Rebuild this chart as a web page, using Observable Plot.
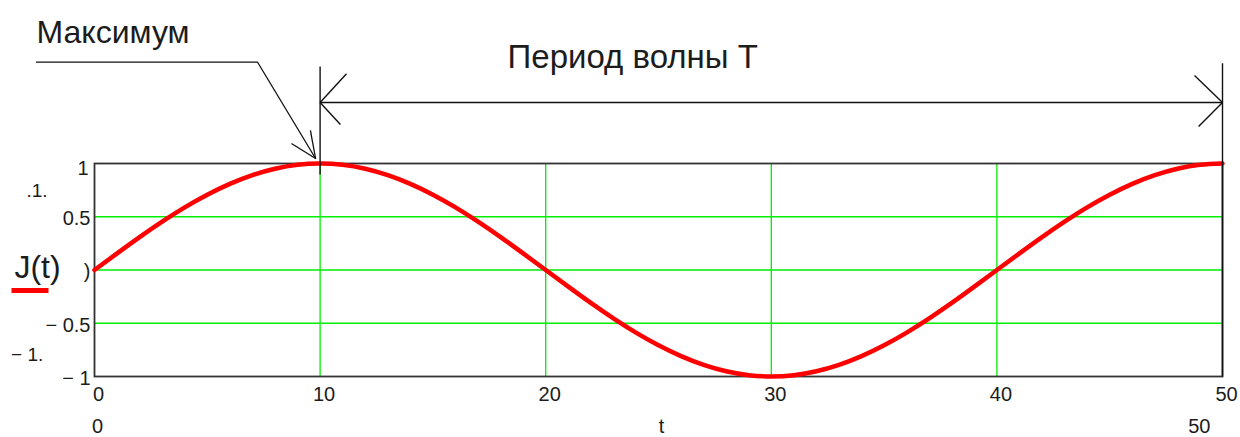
<!DOCTYPE html>
<html>
<head>
<meta charset="utf-8">
<script src="https://cdn.jsdelivr.net/npm/d3@7"></script>
<script src="https://cdn.jsdelivr.net/npm/@observablehq/plot@0.6"></script>
<style>
  html, body { margin: 0; padding: 0; background: #fff; }
  #chart svg { display: block; }
</style>
</head>
<body>
<div id="chart"></div>
<script>
// ---- data ----
const tValues = [0,1,2,3,4,5,6,7,8,9,10,11,12,13,14,15,16,17,18,19,20,21,22,23,24,25,26,27,28,29,30,31,32,33,34,35,36,37,38,39,40,41,42,43,44,45,46,47,48,49,50];
const jValues = [0,0.156,0.309,0.454,0.588,0.707,0.809,0.891,0.951,0.988,1,0.988,0.951,0.891,0.809,0.707,0.588,0.454,0.309,0.156,0,-0.156,-0.309,-0.454,-0.588,-0.707,-0.809,-0.891,-0.951,-0.988,-1,-0.988,-0.951,-0.891,-0.809,-0.707,-0.588,-0.454,-0.309,-0.156,0,0.156,0.309,0.454,0.588,0.707,0.809,0.891,0.951,0.988,1];
const xTicks = [0,10,20,30,40,50];
const xGrid = [10,20,30,40];
const yGrid = [-0.5,0,0.5];
const yTicks = [-1,-0.5,0,0.5];
const yTickLabels = ["\u2212 1","\u2212 0.5",")","0.5"];
const yTopTick = [1];
const rangeLabelsLeft = [{t:0, s:"0"},{t:25, s:"t"}];
const rangeLabelsRight = [{t:50, s:"50"}];
const titleMax = "Максимум";
const titlePeriod = "Период волны T";
const yName = "J(t)";

// annotations in data units (t, J)
const leader = [{t:-2.57,j:1.951},{t:7.23,j:1.951},{t:9.80,j:1.047}];
const leaderHead = [{t1:9.80,j1:1.047,t2:8.73,j2:1.188},{t1:9.80,j1:1.047,t2:9.57,j2:1.31}];
const dimLines = [
  {t1:10,j1:1.911,t2:10,j2:0.897},
  {t1:10,j1:1.573,t2:50,j2:1.573},
  {t1:50,j1:1.942,t2:50,j2:-1},
  {t1:10,j1:1.573,t2:11.17,j2:1.842},
  {t1:10,j1:1.573,t2:10.90,j2:1.366},
  {t1:50,j1:1.573,t2:48.76,j2:1.826},
  {t1:50,j1:1.573,t2:48.94,j2:1.347}
];
const legendSwatch = [{t1:-3.68,j1:-0.1925,t2:-2.04,j2:-0.1925}];

const data = tValues.map((t,i) => ({t, j: jValues[i]}));
const font = "'Liberation Sans', Arial, sans-serif";
const ink = "#1c1c1c";

const chart = Plot.plot({
  width: 1240,
  height: 437,
  marginLeft: 94,
  marginRight: 18,
  marginTop: 163,
  marginBottom: 61,
  x: {domain: [0, 50], axis: null},
  y: {domain: [-1, 1], axis: null},
  style: {background: "#fff", fontFamily: font, overflow: "visible"},
  marks: [
    Plot.ruleY(yGrid, {stroke: "#00ee00", strokeWidth: 1.3}),
    Plot.ruleX(xGrid, {stroke: "#00ee00", strokeWidth: 1.3}),
    Plot.frame({stroke: "#333", strokeWidth: 1.8}),
    Plot.line(data, {x: "t", y: "j", stroke: "#ff0000", strokeWidth: 4.5, curve: "natural"}),
    // annotations
    Plot.line(leader, {x: "t", y: "j", stroke: "#111", strokeWidth: 1.3}),
    Plot.link(leaderHead, {x1: "t1", y1: "j1", x2: "t2", y2: "j2", stroke: "#111", strokeWidth: 1.3}),
    Plot.link(dimLines, {x1: "t1", y1: "j1", x2: "t2", y2: "j2", stroke: "#111", strokeWidth: 1.4}),
    Plot.link(legendSwatch, {x1: "t1", y1: "j1", x2: "t2", y2: "j2", stroke: "#ff0000", strokeWidth: 5}),
    Plot.text([titleMax], {x: -2.57, y: 2.136, text: d => d, textAnchor: "start", lineAnchor: "bottom", fontSize: 32, fill: ink}),
    Plot.text([titlePeriod], {x: 18.31, y: 1.901, text: d => d, textAnchor: "start", lineAnchor: "bottom", fontSize: 33, fill: ink}),
    Plot.text([yName], {x: -3.55, y: 0.02, text: d => d, textAnchor: "start", lineAnchor: "middle", fontSize: 32, fill: ink}),
    Plot.text([".1."], {x: -2.55, y: 0.746, text: d => d, textAnchor: "middle", lineAnchor: "middle", fontSize: 19, fill: ink}),
    Plot.text(["\u2212 1."], {x: -3.7, y: -0.6, text: d => d, textAnchor: "start", lineAnchor: "middle", dy: 21, fontSize: 19, fill: ink}),
    // y tick labels
    Plot.text(yTicks, {x: 0, y: d => d, text: (d, i) => yTickLabels[i], textAnchor: "end", lineAnchor: "middle", dx: -4, dy: 2, fontSize: 20, fill: ink}),
    Plot.text(yTopTick, {x: 0, y: d => d, text: d => String(d), textAnchor: "end", lineAnchor: "middle", dx: -6, dy: 5, fontSize: 20, fill: ink}),
    // x tick labels
    Plot.text(xTicks, {x: d => d, y: -1, text: d => String(d), textAnchor: "middle", lineAnchor: "middle", dx: 4, dy: 18, fontSize: 20, fill: ink}),
    Plot.text(rangeLabelsLeft, {x: "t", y: -1, text: "s", textAnchor: "middle", lineAnchor: "middle", dx: 3, dy: 50, fontSize: 20, fill: ink}),
    Plot.text(rangeLabelsRight, {x: "t", y: -1, text: "s", textAnchor: "end", lineAnchor: "middle", dx: -12, dy: 50, fontSize: 20, fill: ink})
  ]
});
document.getElementById("chart").appendChild(chart);
</script>
</body>
</html>
